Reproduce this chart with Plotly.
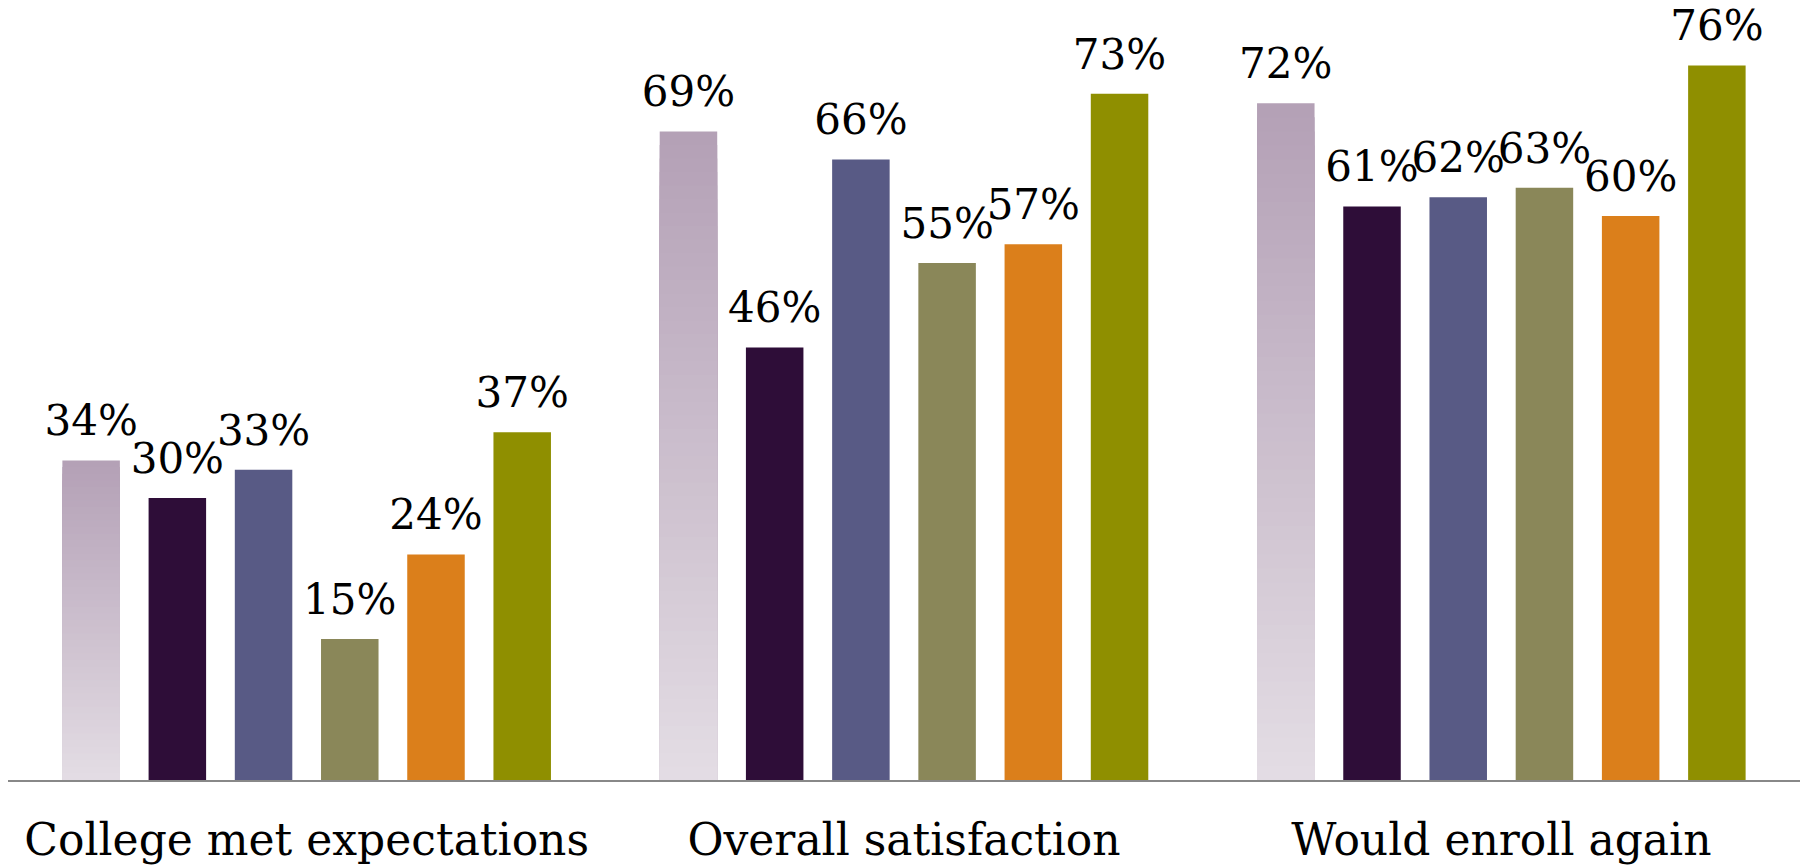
import plotly.graph_objects as go

categories = ["College met expectations", "Overall satisfaction", "Would enroll again"]
series_names = ["Group 1", "Group 2", "Group 3", "Group 4", "Group 5", "Group 6"]
series_values = [
    [34, 69, 72],
    [30, 46, 61],
    [33, 66, 62],
    [15, 55, 63],
    [24, 57, 60],
    [37, 73, 76],
]
series_colors = [None, "#2e0d38", "#585a85", "#8a8759", "#db7f1b", "#8f8f00"]
gradient_top = (179, 160, 182)
gradient_bottom = (228, 221, 228)

FONT = "DejaVu Serif"
LABEL_PAD = 1.3  # gap between bar top and its label, in axis units
fig = go.Figure()


def fmt(v):
    return [f"{x}%" for x in v]


# Series 1: vertical gradient, layered bars of decreasing height (no seams)
N = 48
vals0 = series_values[0]
for i in range(N):
    frac = (N - i) / N
    t = (N - i - 0.5) / N
    c = tuple(round(gradient_bottom[k] + (gradient_top[k] - gradient_bottom[k]) * t) for k in range(3))
    fig.add_trace(go.Bar(
        x=categories,
        y=[v * frac for v in vals0],
        offsetgroup="s0",
        name=series_names[0],
        showlegend=False,
        marker=dict(color=f"rgb{c}", line=dict(width=0)),
        textposition="none",
    ))

for s in range(1, 6):
    fig.add_trace(go.Bar(
        x=categories,
        y=series_values[s],
        offsetgroup=f"s{s}",
        name=series_names[s],
        showlegend=False,
        marker=dict(color=series_colors[s], line=dict(width=0)),
        textposition="none",
    ))

# value labels: transparent spacer on top of each bar carries the text
for s in range(6):
    vals = series_values[s]
    fig.add_trace(go.Bar(
        x=categories,
        y=[LABEL_PAD] * len(vals),
        base=vals,
        offsetgroup=f"s{s}",
        showlegend=False,
        hoverinfo="skip",
        marker=dict(color="rgba(0,0,0,0)", line=dict(width=0)),
        text=fmt(vals),
        textposition="outside",
        constraintext="none",
        cliponaxis=False,
        textfont=dict(family=FONT, size=42, color="black"),
    ))

fig.update_layout(
    width=1805, height=866,
    margin=dict(l=8, r=5, t=28, b=86, autoexpand=False),
    barmode="group",
    bargap=0.134,
    bargroupgap=0.333,
    plot_bgcolor="white",
    paper_bgcolor="white",
    showlegend=False,
    xaxis=dict(
        showline=True, linecolor="#888888", linewidth=2,
        ticks="", showgrid=False, zeroline=False,
        automargin=False,
        ticklabelstandoff=20,
        tickfont=dict(family=FONT, size=44, color="black"),
    ),
    yaxis=dict(range=[0, 80], visible=False, showgrid=False, zeroline=False,
               automargin=False),
)

fig.write_html("out.html")
